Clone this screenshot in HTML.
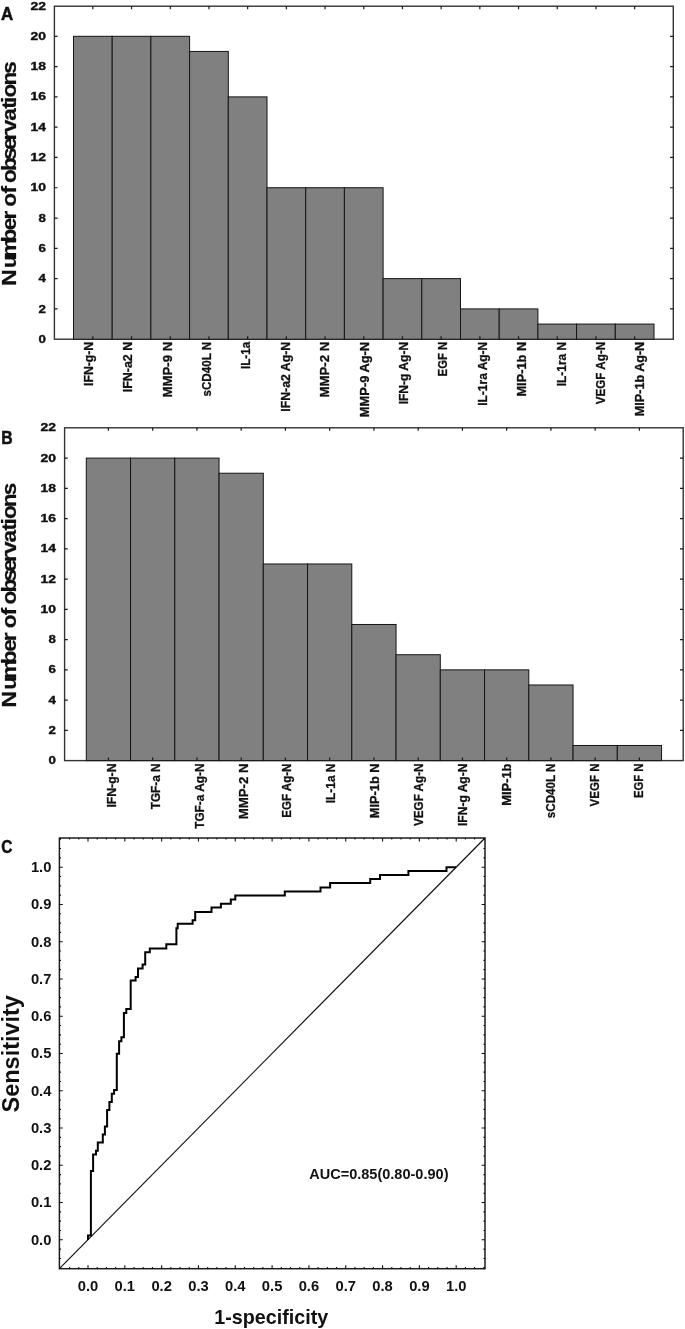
<!DOCTYPE html>
<html lang="en"><head><meta charset="utf-8"><title>Figure</title>
<style>html,body{margin:0;padding:0;background:#fff}svg{display:block}text{font-family:"Liberation Sans", sans-serif;fill:#111}.tk{font-size:10.3px;font-weight:bold;stroke:#111;stroke-width:.35px}.xl{font-size:13.3px;font-weight:bold;stroke:#111;stroke-width:.3px}.yt{font-size:19.6px;font-weight:bold;stroke:#111;stroke-width:.25px}.pl{font-size:17.6px;font-weight:bold;stroke:#111;stroke-width:.5px}.ct{font-size:15px;font-weight:bold}</style></head><body>
<svg width="685" height="1329" viewBox="0 0 685 1329">
<rect width="685" height="1329" fill="#fff"/>
<rect x="54.4" y="6.2" width="618.90" height="333.00" fill="#fff" stroke="#333" stroke-width="1.4"/>
<rect x="73.50" y="36.30" width="38.70" height="302.90" fill="#808080" stroke="#151515" stroke-width="1"/>
<rect x="112.20" y="36.30" width="38.70" height="302.90" fill="#808080" stroke="#151515" stroke-width="1"/>
<rect x="150.90" y="36.30" width="38.70" height="302.90" fill="#808080" stroke="#151515" stroke-width="1"/>
<rect x="189.60" y="51.44" width="38.70" height="287.75" fill="#808080" stroke="#151515" stroke-width="1"/>
<rect x="228.30" y="96.88" width="38.70" height="242.32" fill="#808080" stroke="#151515" stroke-width="1"/>
<rect x="267.00" y="187.75" width="38.70" height="151.45" fill="#808080" stroke="#151515" stroke-width="1"/>
<rect x="305.70" y="187.75" width="38.70" height="151.45" fill="#808080" stroke="#151515" stroke-width="1"/>
<rect x="344.40" y="187.75" width="38.70" height="151.45" fill="#808080" stroke="#151515" stroke-width="1"/>
<rect x="383.10" y="278.62" width="38.70" height="60.58" fill="#808080" stroke="#151515" stroke-width="1"/>
<rect x="421.80" y="278.62" width="38.70" height="60.58" fill="#808080" stroke="#151515" stroke-width="1"/>
<rect x="460.50" y="308.91" width="38.70" height="30.29" fill="#808080" stroke="#151515" stroke-width="1"/>
<rect x="499.20" y="308.91" width="38.70" height="30.29" fill="#808080" stroke="#151515" stroke-width="1"/>
<rect x="537.90" y="324.06" width="38.70" height="15.14" fill="#808080" stroke="#151515" stroke-width="1"/>
<rect x="576.60" y="324.06" width="38.70" height="15.14" fill="#808080" stroke="#151515" stroke-width="1"/>
<rect x="615.30" y="324.06" width="38.70" height="15.14" fill="#808080" stroke="#151515" stroke-width="1"/>
<text class="tk" x="46.0" y="342.80" text-anchor="end" textLength="7.4" lengthAdjust="spacingAndGlyphs">0</text>
<text class="tk" x="46.0" y="312.51" text-anchor="end" textLength="7.4" lengthAdjust="spacingAndGlyphs">2</text>
<text class="tk" x="46.0" y="282.22" text-anchor="end" textLength="7.4" lengthAdjust="spacingAndGlyphs">4</text>
<text class="tk" x="46.0" y="251.93" text-anchor="end" textLength="7.4" lengthAdjust="spacingAndGlyphs">6</text>
<text class="tk" x="46.0" y="221.64" text-anchor="end" textLength="7.4" lengthAdjust="spacingAndGlyphs">8</text>
<text class="tk" x="46.0" y="191.35" text-anchor="end" textLength="15.5" lengthAdjust="spacingAndGlyphs">10</text>
<text class="tk" x="46.0" y="161.06" text-anchor="end" textLength="15.5" lengthAdjust="spacingAndGlyphs">12</text>
<text class="tk" x="46.0" y="130.77" text-anchor="end" textLength="15.5" lengthAdjust="spacingAndGlyphs">14</text>
<text class="tk" x="46.0" y="100.48" text-anchor="end" textLength="15.5" lengthAdjust="spacingAndGlyphs">16</text>
<text class="tk" x="46.0" y="70.19" text-anchor="end" textLength="15.5" lengthAdjust="spacingAndGlyphs">18</text>
<text class="tk" x="46.0" y="39.90" text-anchor="end" textLength="15.5" lengthAdjust="spacingAndGlyphs">20</text>
<text class="tk" x="46.0" y="9.61" text-anchor="end" textLength="15.5" lengthAdjust="spacingAndGlyphs">22</text>
<path d="M54.4 308.91h3.2 M673.3 308.91h-3.2 M54.4 278.62h3.2 M673.3 278.62h-3.2 M54.4 248.33h3.2 M673.3 248.33h-3.2 M54.4 218.04h3.2 M673.3 218.04h-3.2 M54.4 187.75h3.2 M673.3 187.75h-3.2 M54.4 157.46h3.2 M673.3 157.46h-3.2 M54.4 127.17h3.2 M673.3 127.17h-3.2 M54.4 96.88h3.2 M673.3 96.88h-3.2 M54.4 66.59h3.2 M673.3 66.59h-3.2 M54.4 36.30h3.2 M673.3 36.30h-3.2 M92.85 6.2v3 M92.85 339.2v-3 M131.55 6.2v3 M131.55 339.2v-3 M170.25 6.2v3 M170.25 339.2v-3 M208.95 6.2v3 M208.95 339.2v-3 M247.65 6.2v3 M247.65 339.2v-3 M286.35 6.2v3 M286.35 339.2v-3 M325.05 6.2v3 M325.05 339.2v-3 M363.75 6.2v3 M363.75 339.2v-3 M402.45 6.2v3 M402.45 339.2v-3 M441.15 6.2v3 M441.15 339.2v-3 M479.85 6.2v3 M479.85 339.2v-3 M518.55 6.2v3 M518.55 339.2v-3 M557.25 6.2v3 M557.25 339.2v-3 M595.95 6.2v3 M595.95 339.2v-3 M634.65 6.2v3 M634.65 339.2v-3" stroke="#1a1a1a" stroke-width="1.2" fill="none"/>
<text class="xl" transform="translate(92.90 385.92) rotate(-90)" textLength="44.1" lengthAdjust="spacingAndGlyphs">IFN-g-N</text>
<text class="xl" transform="translate(132.29 392.22) rotate(-90)" textLength="50.4" lengthAdjust="spacingAndGlyphs">IFN-a2 N</text>
<text class="xl" transform="translate(171.68 397.58) rotate(-90)" textLength="55.8" lengthAdjust="spacingAndGlyphs">MMP-9 N</text>
<text class="xl" transform="translate(211.07 396.51) rotate(-90)" textLength="54.7" lengthAdjust="spacingAndGlyphs">sCD40L N</text>
<text class="xl" transform="translate(250.46 369.06) rotate(-90)" textLength="27.3" lengthAdjust="spacingAndGlyphs">IL-1a</text>
<text class="xl" transform="translate(289.85 411.76) rotate(-90)" textLength="70.0" lengthAdjust="spacingAndGlyphs">IFN-a2 Ag-N</text>
<text class="xl" transform="translate(329.24 397.58) rotate(-90)" textLength="55.8" lengthAdjust="spacingAndGlyphs">MMP-2 N</text>
<text class="xl" transform="translate(368.63 417.13) rotate(-90)" textLength="75.3" lengthAdjust="spacingAndGlyphs">MMP-9 Ag-N</text>
<text class="xl" transform="translate(408.02 404.34) rotate(-90)" textLength="62.5" lengthAdjust="spacingAndGlyphs">IFN-g Ag-N</text>
<text class="xl" transform="translate(447.41 376.40) rotate(-90)" textLength="34.6" lengthAdjust="spacingAndGlyphs">EGF N</text>
<text class="xl" transform="translate(486.80 405.78) rotate(-90)" textLength="64.0" lengthAdjust="spacingAndGlyphs">IL-1ra Ag-N</text>
<text class="xl" transform="translate(526.19 396.58) rotate(-90)" textLength="54.8" lengthAdjust="spacingAndGlyphs">MIP-1b N</text>
<text class="xl" transform="translate(565.58 386.23) rotate(-90)" textLength="44.4" lengthAdjust="spacingAndGlyphs">IL-1ra N</text>
<text class="xl" transform="translate(604.97 404.29) rotate(-90)" textLength="62.5" lengthAdjust="spacingAndGlyphs">VEGF Ag-N</text>
<text class="xl" transform="translate(644.36 416.13) rotate(-90)" textLength="74.3" lengthAdjust="spacingAndGlyphs">MIP-1b Ag-N</text>
<text class="yt" transform="translate(16.0 283.5) rotate(-90) scale(1.15 1)" x="-2.0 13.3 22.5 35.6 46.4 55.6 63.2 66.8 78.2 84.8 87.4 97.9 107.4 116.0 124.4 131.5 141.5 151.9 157.0 161.8 172.1 182.4">Number of observations</text>
<text class="pl" x="0.9" y="20.3" textLength="12.2" lengthAdjust="spacingAndGlyphs">A</text>
<rect x="64.6" y="427.8" width="618.60" height="332.80" fill="#fff" stroke="#333" stroke-width="1.4"/>
<rect x="86.30" y="458.10" width="44.25" height="302.50" fill="#808080" stroke="#151515" stroke-width="1"/>
<rect x="130.55" y="458.10" width="44.25" height="302.50" fill="#808080" stroke="#151515" stroke-width="1"/>
<rect x="174.80" y="458.10" width="44.25" height="302.50" fill="#808080" stroke="#151515" stroke-width="1"/>
<rect x="219.05" y="473.23" width="44.25" height="287.38" fill="#808080" stroke="#151515" stroke-width="1"/>
<rect x="263.30" y="563.98" width="44.25" height="196.62" fill="#808080" stroke="#151515" stroke-width="1"/>
<rect x="307.55" y="563.98" width="44.25" height="196.62" fill="#808080" stroke="#151515" stroke-width="1"/>
<rect x="351.80" y="624.48" width="44.25" height="136.12" fill="#808080" stroke="#151515" stroke-width="1"/>
<rect x="396.05" y="654.73" width="44.25" height="105.88" fill="#808080" stroke="#151515" stroke-width="1"/>
<rect x="440.30" y="669.85" width="44.25" height="90.75" fill="#808080" stroke="#151515" stroke-width="1"/>
<rect x="484.55" y="669.85" width="44.25" height="90.75" fill="#808080" stroke="#151515" stroke-width="1"/>
<rect x="528.80" y="684.98" width="44.25" height="75.62" fill="#808080" stroke="#151515" stroke-width="1"/>
<rect x="573.05" y="745.48" width="44.25" height="15.12" fill="#808080" stroke="#151515" stroke-width="1"/>
<rect x="617.30" y="745.48" width="44.25" height="15.12" fill="#808080" stroke="#151515" stroke-width="1"/>
<text class="tk" x="56.0" y="764.20" text-anchor="end" textLength="7.4" lengthAdjust="spacingAndGlyphs">0</text>
<text class="tk" x="56.0" y="733.95" text-anchor="end" textLength="7.4" lengthAdjust="spacingAndGlyphs">2</text>
<text class="tk" x="56.0" y="703.70" text-anchor="end" textLength="7.4" lengthAdjust="spacingAndGlyphs">4</text>
<text class="tk" x="56.0" y="673.45" text-anchor="end" textLength="7.4" lengthAdjust="spacingAndGlyphs">6</text>
<text class="tk" x="56.0" y="643.20" text-anchor="end" textLength="7.4" lengthAdjust="spacingAndGlyphs">8</text>
<text class="tk" x="56.0" y="612.95" text-anchor="end" textLength="15.5" lengthAdjust="spacingAndGlyphs">10</text>
<text class="tk" x="56.0" y="582.70" text-anchor="end" textLength="15.5" lengthAdjust="spacingAndGlyphs">12</text>
<text class="tk" x="56.0" y="552.45" text-anchor="end" textLength="15.5" lengthAdjust="spacingAndGlyphs">14</text>
<text class="tk" x="56.0" y="522.20" text-anchor="end" textLength="15.5" lengthAdjust="spacingAndGlyphs">16</text>
<text class="tk" x="56.0" y="491.95" text-anchor="end" textLength="15.5" lengthAdjust="spacingAndGlyphs">18</text>
<text class="tk" x="56.0" y="461.70" text-anchor="end" textLength="15.5" lengthAdjust="spacingAndGlyphs">20</text>
<text class="tk" x="56.0" y="431.45" text-anchor="end" textLength="15.5" lengthAdjust="spacingAndGlyphs">22</text>
<path d="M64.6 730.35h3.2 M683.2 730.35h-3.2 M64.6 700.10h3.2 M683.2 700.10h-3.2 M64.6 669.85h3.2 M683.2 669.85h-3.2 M64.6 639.60h3.2 M683.2 639.60h-3.2 M64.6 609.35h3.2 M683.2 609.35h-3.2 M64.6 579.10h3.2 M683.2 579.10h-3.2 M64.6 548.85h3.2 M683.2 548.85h-3.2 M64.6 518.60h3.2 M683.2 518.60h-3.2 M64.6 488.35h3.2 M683.2 488.35h-3.2 M64.6 458.10h3.2 M683.2 458.10h-3.2 M108.42 427.8v3 M108.42 760.6v-3 M152.68 427.8v3 M152.68 760.6v-3 M196.93 427.8v3 M196.93 760.6v-3 M241.18 427.8v3 M241.18 760.6v-3 M285.43 427.8v3 M285.43 760.6v-3 M329.68 427.8v3 M329.68 760.6v-3 M373.93 427.8v3 M373.93 760.6v-3 M418.18 427.8v3 M418.18 760.6v-3 M462.43 427.8v3 M462.43 760.6v-3 M506.68 427.8v3 M506.68 760.6v-3 M550.92 427.8v3 M550.92 760.6v-3 M595.17 427.8v3 M595.17 760.6v-3 M639.42 427.8v3 M639.42 760.6v-3" stroke="#1a1a1a" stroke-width="1.2" fill="none"/>
<text class="xl" transform="translate(115.90 807.62) rotate(-90)" textLength="44.1" lengthAdjust="spacingAndGlyphs">IFN-g-N</text>
<text class="xl" transform="translate(159.79 809.30) rotate(-90)" textLength="45.8" lengthAdjust="spacingAndGlyphs">TGF-a N</text>
<text class="xl" transform="translate(203.68 828.85) rotate(-90)" textLength="65.4" lengthAdjust="spacingAndGlyphs">TGF-a Ag-N</text>
<text class="xl" transform="translate(247.57 819.28) rotate(-90)" textLength="55.8" lengthAdjust="spacingAndGlyphs">MMP-2 N</text>
<text class="xl" transform="translate(291.46 817.65) rotate(-90)" textLength="54.1" lengthAdjust="spacingAndGlyphs">EGF Ag-N</text>
<text class="xl" transform="translate(335.35 803.23) rotate(-90)" textLength="39.7" lengthAdjust="spacingAndGlyphs">IL-1a N</text>
<text class="xl" transform="translate(379.24 818.28) rotate(-90)" textLength="54.8" lengthAdjust="spacingAndGlyphs">MIP-1b N</text>
<text class="xl" transform="translate(423.13 825.99) rotate(-90)" textLength="62.5" lengthAdjust="spacingAndGlyphs">VEGF Ag-N</text>
<text class="xl" transform="translate(467.02 826.04) rotate(-90)" textLength="62.5" lengthAdjust="spacingAndGlyphs">IFN-g Ag-N</text>
<text class="xl" transform="translate(510.91 805.81) rotate(-90)" textLength="42.3" lengthAdjust="spacingAndGlyphs">MIP-1b</text>
<text class="xl" transform="translate(554.80 818.21) rotate(-90)" textLength="54.7" lengthAdjust="spacingAndGlyphs">sCD40L N</text>
<text class="xl" transform="translate(598.69 806.44) rotate(-90)" textLength="42.9" lengthAdjust="spacingAndGlyphs">VEGF N</text>
<text class="xl" transform="translate(642.58 798.10) rotate(-90)" textLength="34.6" lengthAdjust="spacingAndGlyphs">EGF N</text>
<text class="yt" transform="translate(16.0 705.1) rotate(-90) scale(1.15 1)" x="-2.0 13.3 22.5 35.6 46.4 55.6 63.2 66.8 78.2 84.8 87.4 97.9 107.4 116.0 124.4 131.5 141.5 151.9 157.0 161.8 172.1 182.4">Number of observations</text>
<text class="pl" x="1.3" y="443.5" textLength="11.4" lengthAdjust="spacingAndGlyphs">B</text>
<rect x="59.4" y="838.0" width="425.60" height="430.70" fill="#fff" stroke="#1e1e1e" stroke-width="1.5"/>
<path d="M60.38 1268.7v-1.6 M60.38 838.0v1.6 M59.4 1267.74h1.6 M485.0 1267.74h-1.6 M69.59 1268.7v-1.6 M69.59 838.0v1.6 M59.4 1258.43h1.6 M485.0 1258.43h-1.6 M78.80 1268.7v-1.6 M78.80 838.0v1.6 M59.4 1249.12h1.6 M485.0 1249.12h-1.6 M88.00 1268.7v-3.4 M88.00 838.0v3.4 M59.4 1239.80h3.4 M485.0 1239.80h-3.4 M97.20 1268.7v-1.6 M97.20 838.0v1.6 M59.4 1230.48h1.6 M485.0 1230.48h-1.6 M106.41 1268.7v-1.6 M106.41 838.0v1.6 M59.4 1221.17h1.6 M485.0 1221.17h-1.6 M115.62 1268.7v-1.6 M115.62 838.0v1.6 M59.4 1211.86h1.6 M485.0 1211.86h-1.6 M124.82 1268.7v-3.4 M124.82 838.0v3.4 M59.4 1202.54h3.4 M485.0 1202.54h-3.4 M134.03 1268.7v-1.6 M134.03 838.0v1.6 M59.4 1193.22h1.6 M485.0 1193.22h-1.6 M143.23 1268.7v-1.6 M143.23 838.0v1.6 M59.4 1183.91h1.6 M485.0 1183.91h-1.6 M152.44 1268.7v-1.6 M152.44 838.0v1.6 M59.4 1174.60h1.6 M485.0 1174.60h-1.6 M161.64 1268.7v-3.4 M161.64 838.0v3.4 M59.4 1165.28h3.4 M485.0 1165.28h-3.4 M170.84 1268.7v-1.6 M170.84 838.0v1.6 M59.4 1155.96h1.6 M485.0 1155.96h-1.6 M180.05 1268.7v-1.6 M180.05 838.0v1.6 M59.4 1146.65h1.6 M485.0 1146.65h-1.6 M189.25 1268.7v-1.6 M189.25 838.0v1.6 M59.4 1137.34h1.6 M485.0 1137.34h-1.6 M198.46 1268.7v-3.4 M198.46 838.0v3.4 M59.4 1128.02h3.4 M485.0 1128.02h-3.4 M207.67 1268.7v-1.6 M207.67 838.0v1.6 M59.4 1118.70h1.6 M485.0 1118.70h-1.6 M216.87 1268.7v-1.6 M216.87 838.0v1.6 M59.4 1109.39h1.6 M485.0 1109.39h-1.6 M226.07 1268.7v-1.6 M226.07 838.0v1.6 M59.4 1100.07h1.6 M485.0 1100.07h-1.6 M235.28 1268.7v-3.4 M235.28 838.0v3.4 M59.4 1090.76h3.4 M485.0 1090.76h-3.4 M244.49 1268.7v-1.6 M244.49 838.0v1.6 M59.4 1081.44h1.6 M485.0 1081.44h-1.6 M253.69 1268.7v-1.6 M253.69 838.0v1.6 M59.4 1072.13h1.6 M485.0 1072.13h-1.6 M262.89 1268.7v-1.6 M262.89 838.0v1.6 M59.4 1062.82h1.6 M485.0 1062.82h-1.6 M272.10 1268.7v-3.4 M272.10 838.0v3.4 M59.4 1053.50h3.4 M485.0 1053.50h-3.4 M281.31 1268.7v-1.6 M281.31 838.0v1.6 M59.4 1044.18h1.6 M485.0 1044.18h-1.6 M290.51 1268.7v-1.6 M290.51 838.0v1.6 M59.4 1034.87h1.6 M485.0 1034.87h-1.6 M299.72 1268.7v-1.6 M299.72 838.0v1.6 M59.4 1025.55h1.6 M485.0 1025.55h-1.6 M308.92 1268.7v-3.4 M308.92 838.0v3.4 M59.4 1016.24h3.4 M485.0 1016.24h-3.4 M318.12 1268.7v-1.6 M318.12 838.0v1.6 M59.4 1006.92h1.6 M485.0 1006.92h-1.6 M327.33 1268.7v-1.6 M327.33 838.0v1.6 M59.4 997.61h1.6 M485.0 997.61h-1.6 M336.53 1268.7v-1.6 M336.53 838.0v1.6 M59.4 988.29h1.6 M485.0 988.29h-1.6 M345.74 1268.7v-3.4 M345.74 838.0v3.4 M59.4 978.98h3.4 M485.0 978.98h-3.4 M354.95 1268.7v-1.6 M354.95 838.0v1.6 M59.4 969.66h1.6 M485.0 969.66h-1.6 M364.15 1268.7v-1.6 M364.15 838.0v1.6 M59.4 960.35h1.6 M485.0 960.35h-1.6 M373.36 1268.7v-1.6 M373.36 838.0v1.6 M59.4 951.03h1.6 M485.0 951.03h-1.6 M382.56 1268.7v-3.4 M382.56 838.0v3.4 M59.4 941.72h3.4 M485.0 941.72h-3.4 M391.77 1268.7v-1.6 M391.77 838.0v1.6 M59.4 932.40h1.6 M485.0 932.40h-1.6 M400.97 1268.7v-1.6 M400.97 838.0v1.6 M59.4 923.09h1.6 M485.0 923.09h-1.6 M410.18 1268.7v-1.6 M410.18 838.0v1.6 M59.4 913.77h1.6 M485.0 913.77h-1.6 M419.38 1268.7v-3.4 M419.38 838.0v3.4 M59.4 904.46h3.4 M485.0 904.46h-3.4 M428.58 1268.7v-1.6 M428.58 838.0v1.6 M59.4 895.14h1.6 M485.0 895.14h-1.6 M437.79 1268.7v-1.6 M437.79 838.0v1.6 M59.4 885.83h1.6 M485.0 885.83h-1.6 M447.00 1268.7v-1.6 M447.00 838.0v1.6 M59.4 876.51h1.6 M485.0 876.51h-1.6 M456.20 1268.7v-3.4 M456.20 838.0v3.4 M59.4 867.20h3.4 M485.0 867.20h-3.4 M465.41 1268.7v-1.6 M465.41 838.0v1.6 M59.4 857.88h1.6 M485.0 857.88h-1.6 M474.61 1268.7v-1.6 M474.61 838.0v1.6 M59.4 848.57h1.6 M485.0 848.57h-1.6 M483.81 1268.7v-1.6 M483.81 838.0v1.6 M59.4 839.25h1.6 M485.0 839.25h-1.6" stroke="#111" stroke-width="1.1" fill="none"/>
<text class="ct" x="88.00" y="1290.9" text-anchor="middle" textLength="20.5" lengthAdjust="spacingAndGlyphs">0.0</text>
<text class="ct" x="51.4" y="1244.70" text-anchor="end" textLength="20.5" lengthAdjust="spacingAndGlyphs">0.0</text>
<text class="ct" x="124.82" y="1290.9" text-anchor="middle" textLength="20.5" lengthAdjust="spacingAndGlyphs">0.1</text>
<text class="ct" x="51.4" y="1207.44" text-anchor="end" textLength="20.5" lengthAdjust="spacingAndGlyphs">0.1</text>
<text class="ct" x="161.64" y="1290.9" text-anchor="middle" textLength="20.5" lengthAdjust="spacingAndGlyphs">0.2</text>
<text class="ct" x="51.4" y="1170.18" text-anchor="end" textLength="20.5" lengthAdjust="spacingAndGlyphs">0.2</text>
<text class="ct" x="198.46" y="1290.9" text-anchor="middle" textLength="20.5" lengthAdjust="spacingAndGlyphs">0.3</text>
<text class="ct" x="51.4" y="1132.92" text-anchor="end" textLength="20.5" lengthAdjust="spacingAndGlyphs">0.3</text>
<text class="ct" x="235.28" y="1290.9" text-anchor="middle" textLength="20.5" lengthAdjust="spacingAndGlyphs">0.4</text>
<text class="ct" x="51.4" y="1095.66" text-anchor="end" textLength="20.5" lengthAdjust="spacingAndGlyphs">0.4</text>
<text class="ct" x="272.10" y="1290.9" text-anchor="middle" textLength="20.5" lengthAdjust="spacingAndGlyphs">0.5</text>
<text class="ct" x="51.4" y="1058.40" text-anchor="end" textLength="20.5" lengthAdjust="spacingAndGlyphs">0.5</text>
<text class="ct" x="308.92" y="1290.9" text-anchor="middle" textLength="20.5" lengthAdjust="spacingAndGlyphs">0.6</text>
<text class="ct" x="51.4" y="1021.14" text-anchor="end" textLength="20.5" lengthAdjust="spacingAndGlyphs">0.6</text>
<text class="ct" x="345.74" y="1290.9" text-anchor="middle" textLength="20.5" lengthAdjust="spacingAndGlyphs">0.7</text>
<text class="ct" x="51.4" y="983.88" text-anchor="end" textLength="20.5" lengthAdjust="spacingAndGlyphs">0.7</text>
<text class="ct" x="382.56" y="1290.9" text-anchor="middle" textLength="20.5" lengthAdjust="spacingAndGlyphs">0.8</text>
<text class="ct" x="51.4" y="946.62" text-anchor="end" textLength="20.5" lengthAdjust="spacingAndGlyphs">0.8</text>
<text class="ct" x="419.38" y="1290.9" text-anchor="middle" textLength="20.5" lengthAdjust="spacingAndGlyphs">0.9</text>
<text class="ct" x="51.4" y="909.36" text-anchor="end" textLength="20.5" lengthAdjust="spacingAndGlyphs">0.9</text>
<text class="ct" x="456.20" y="1290.9" text-anchor="middle" textLength="20.5" lengthAdjust="spacingAndGlyphs">1.0</text>
<text class="ct" x="51.4" y="872.10" text-anchor="end" textLength="20.5" lengthAdjust="spacingAndGlyphs">1.0</text>
<path d="M59.4 1268.7L485.0 838.0" stroke="#111" stroke-width="1.2" fill="none"/>
<path d="M88 1240L88 1235.6L90.9 1235.6L90.9 1170.9L93.1 1170.9L93.1 1154.6L96 1154.6L96 1150.7L97.8 1150.7L97.8 1142.4L102.8 1142.4L102.8 1134.4L104.9 1134.4L104.9 1126.4L107.1 1126.4L107.1 1110.1L109.4 1110.1L109.4 1101.9L111.8 1101.9L111.8 1093.7L114.1 1093.7L114.1 1090L116.8 1090L116.8 1053.8L119.1 1053.8L119.1 1041.3L121.4 1041.3L121.4 1037.2L123.9 1037.2L123.9 1013L126.3 1013L126.3 1008.9L130.7 1008.9L130.7 980.6L135.6 980.6L135.6 977.1L138 977.1L138 968.4L142.6 968.4L142.6 964.5L145.2 964.5L145.2 952.3L149.8 952.3L149.8 948.4L166.3 948.4L166.3 944.2L176.4 944.2L176.4 928.2L177.7 928.2L177.7 923.8L192.6 923.8L192.6 920.3L195.2 920.3L195.2 911.9L211.5 911.9L211.5 907.5L220.9 907.5L220.9 903.7L230.8 903.7L230.8 899.6L235.3 899.6L235.3 895.6L284.8 895.6L284.8 891.5L320.5 891.5L320.5 887.4L330.1 887.4L330.1 883L370.2 883L370.2 879L380 879L380 875L408.4 875L408.4 870.9L446.5 870.9L446.5 867.2L456.2 867.2" stroke="#000" stroke-width="2" fill="none" stroke-linejoin="miter"/>
<text x="309.2" y="1179.4" font-size="14px" font-weight="bold" textLength="139.3" lengthAdjust="spacingAndGlyphs">AUC=0.85(0.80-0.90)</text>
<text x="214.2" y="1323.7" font-size="20.6px" font-weight="bold" textLength="114" lengthAdjust="spacingAndGlyphs">1-specificity</text>
<text transform="translate(18.8 1112.4) rotate(-90)" font-size="23.4px" font-weight="bold" textLength="117.3" lengthAdjust="spacingAndGlyphs">Sensitivity</text>
<text class="pl" x="1.3" y="853.0" textLength="11.2" lengthAdjust="spacingAndGlyphs">C</text>
</svg></body></html>
